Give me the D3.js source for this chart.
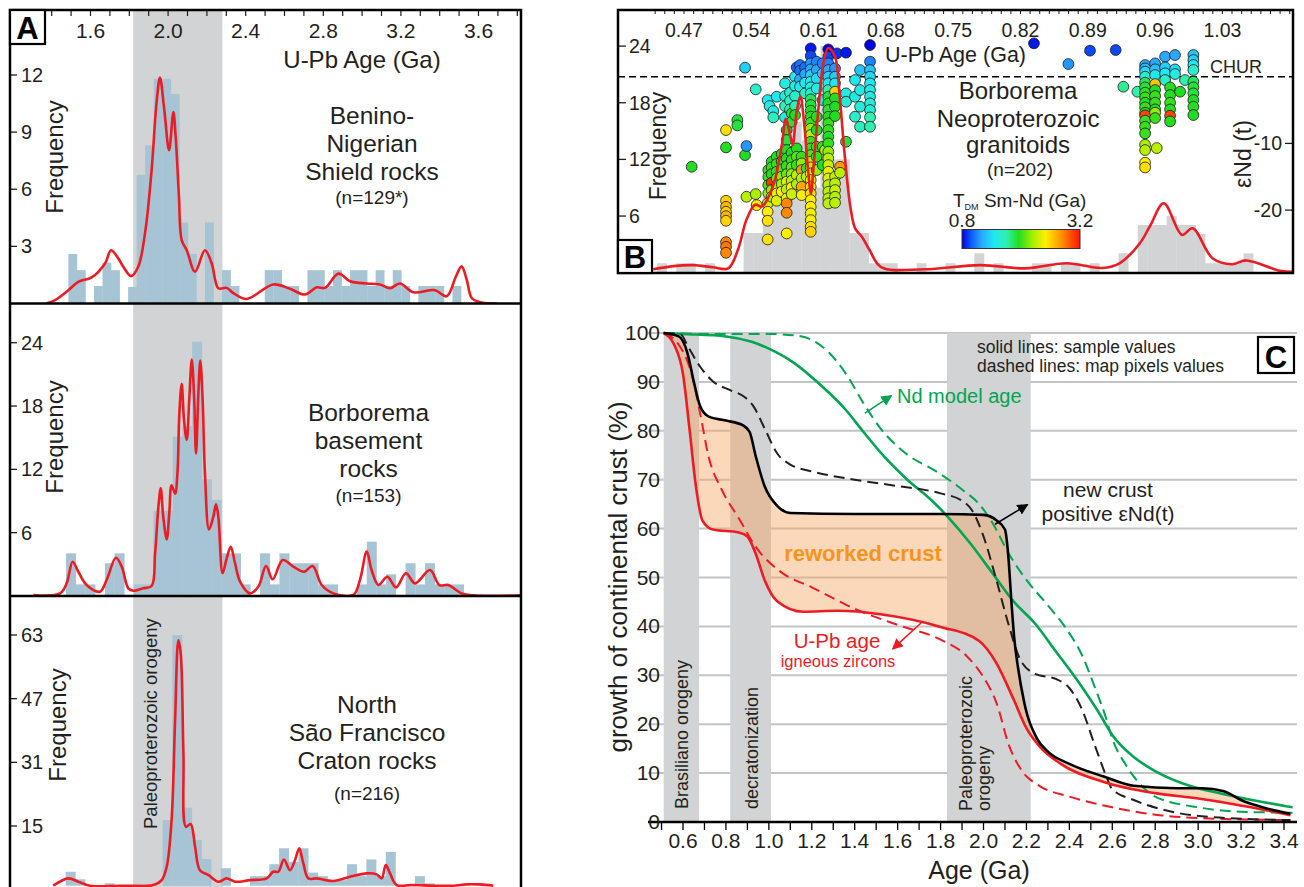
<!DOCTYPE html>
<html>
<head>
<meta charset="utf-8">
<script src="https://cdn.jsdelivr.net/npm/d3@7"></script>
<style>
  body { margin: 0; background: #fff; }
  svg { display: block; }
</style>
</head>
<body>
<svg id="fig" width="1304" height="887"></svg>
<script>
// ---------------- panel A : U-Pb zircon age spectra ----------------
const aAgeTicks = [1.6, 2.0, 2.4, 2.8, 3.2, 3.6];
const benTicks = [3, 6, 9, 12];
const basTicks = [6, 12, 18, 24];
const sfcTicks = [15, 31, 47, 63];
const paleoBandA = [1.82, 2.28];

const benBinStart = 1.486, benBinWidth = 0.044;
const benBins = [2.6, 1.75, 0, 0.92, 2.15, 1.75, 0, 0.87, 6.76, 8.3, 11.8, 11.8, 11.0, 4.26, 2.6, 0,
  4.26, 0, 1.75, 0.92, 0, 0, 0, 1.75, 1.75, 0.92, 0.92, 0, 1.75, 1.75, 0.92, 1.75, 0.92, 1.75, 1.75,
  0.92, 1.75, 0.92, 1.75, 0.92, 0, 0.92, 0.92, 0.92, 0, 0.92];
const basBinStart = 1.474, basBinWidth = 0.05;
const basBins = [4.04, 1.1, 1.1, 0, 3.1, 4.04, 0, 1.1, 1.1, 8.08, 8.08, 15.1, 16.1, 24.1, 11.06, 9.1,
  4.04, 4.04, 1.1, 0, 4.04, 1.1, 4.04, 3.1, 3.1, 3.1, 1.1, 1.1, 0, 0, 1.1, 5.15, 1.1, 2.05, 0, 3.1,
  1.1, 3.1, 1.1, 1.1, 1.1];
const sfcBinStart = 1.472, sfcBinWidth = 0.05;
const sfcBins = [3.5, 1.6, 0, 0, 0.6, 0, 0, 0.4, 0.4, 0, 16.5, 63, 19.6, 11.5, 6.7, 0, 4.4, 0, 0,
  2.4, 2.4, 5.4, 9.4, 6, 9.4, 3.3, 2.4, 1.4, 1.4, 5.4, 2.4, 6.6, 2.4, 8.5, 0, 0, 2.4, 0.6, 0, 0, 0, 0, 0.4];

const benKde = [[1.37,0],[1.417,0.18],[1.486,0.7],[1.537,1.14],[1.606,1.37],[1.675,2.1],[1.706,2.8],
  [1.743,2.37],[1.769,1.93],[1.809,1.44],[1.846,1.93],[1.881,3.68],[1.915,7.0],[1.94,10.5],[1.958,11.86],
  [1.98,10.2],[2.005,8.05],[2.027,10.06],[2.039,8.75],[2.056,5.6],[2.07,3.33],[2.096,2.8],[2.139,1.67],
  [2.19,2.8],[2.225,2.1],[2.259,0.8],[2.302,0.82],[2.336,0.55],[2.405,0.24],[2.542,1.0],[2.628,0.77],
  [2.705,0.47],[2.766,0.85],[2.809,0.82],[2.878,1.57],[2.938,1.17],[3.024,1.05],[3.092,1.0],[3.144,0.8],
  [3.195,1.05],[3.264,0.59],[3.376,0.7],[3.436,0.38],[3.484,1.43],[3.513,1.95],[3.539,1.26],[3.565,0.29],
  [3.608,0.07],[3.694,0]];
const basKde = [[1.305,0.1],[1.443,0.25],[1.477,1.2],[1.508,3.25],[1.537,2.3],[1.58,1.04],[1.649,0.41],
  [1.683,1.52],[1.731,3.63],[1.761,2.78],[1.795,0.73],[1.821,0.5],[1.872,0.73],[1.915,0.95],[1.933,4.04],
  [1.95,8.46],[1.962,10.2],[1.975,7.5],[1.993,5.37],[2.006,7.83],[2.018,10.5],[2.036,9.7],[2.048,11.6],
  [2.058,17.3],[2.07,20.1],[2.082,16.7],[2.096,14.8],[2.109,18.6],[2.122,22.4],[2.134,18.9],[2.144,13.5],
  [2.156,19.2],[2.166,22.3],[2.178,18.6],[2.19,11.6],[2.211,6.3],[2.233,7.5],[2.247,8.7],[2.259,7.5],
  [2.281,2.15],[2.302,3.57],[2.323,4.67],[2.345,3.1],[2.371,1.36],[2.422,0.25],[2.465,0.88],[2.505,2.84],
  [2.539,1.58],[2.591,3.41],[2.646,2.78],[2.701,2.3],[2.745,2.84],[2.792,1.04],[2.852,0.25],[2.955,0.1],
  [2.989,1.52],[3.024,4.2],[3.049,2.46],[3.084,1.04],[3.13,1.83],[3.175,0.82],[3.226,2.15],[3.273,1.2],
  [3.35,2.46],[3.398,1.04],[3.444,1.04],[3.513,0.25],[3.573,0.06],[3.814,0.06]];
const sfcKde = [[1.408,0],[1.486,1.84],[1.537,1.0],[1.597,0],[1.75,0],[1.924,0.17],[1.967,1.4],
  [1.993,4.8],[2.018,16.5],[2.036,41.6],[2.053,61.7],[2.065,58.4],[2.079,33.2],[2.092,14.8],[2.116,15.5],
  [2.139,9.8],[2.164,3.9],[2.207,2.7],[2.259,1.0],[2.302,1.84],[2.345,1.0],[2.422,1.4],[2.508,1.84],
  [2.542,3.5],[2.568,3.5],[2.597,6.6],[2.628,3.9],[2.654,6.4],[2.676,9.4],[2.697,5.6],[2.723,1.84],
  [2.766,1.84],[2.852,1.17],[2.938,2.26],[3.024,3.1],[3.075,2.85],[3.101,1.84],[3.122,5.2],[3.144,3.1],
  [3.178,0.17],[3.255,0.17],[3.384,0],[3.47,0],[3.539,0.34],[3.608,0.34],[3.676,0]];

const benTitle = ["Benino-", "Nigerian", "Shield rocks"];
const basTitle = ["Borborema", "basement", "rocks"];
const sfcTitle = ["North", "São Francisco", "Craton rocks"];

// ---------------- panel B : Neoproterozoic granitoids ----------------
const bAgeTicks = [0.47, 0.54, 0.61, 0.68, 0.75, 0.82, 0.89, 0.96, 1.03];
const bFreqTicks = [6, 12, 18, 24];
const bEndTicks = [-10, -20];
const graBinStart = 0.442, graBinWidth = 0.01;
const graBins = [1, 0, 1, 1, 0, 1, 0, 0, 0, 4.2, 4.2, 8, 8, 12, 16, 14, 9, 24, 12, 12, 4.2, 4.2, 1, 1, 1,
  0, 0, 1, 0, 0, 1, 0, 0, 2.05, 0, 1, 0, 0, 0, 1, 1, 0, 1, 1, 0, 1, 0, 0, 2.05, 0, 5.05, 5.05, 5.05, 6,
  5.05, 5.05, 4.1, 1, 1, 1, 1, 2.05];
const graKde = [[0.438,0.36],[0.459,0.7],[0.48,0.8],[0.5,0.57],[0.516,0.46],[0.526,2.4],[0.535,5.6],
  [0.544,7.2],[0.551,7.0],[0.558,8.05],[0.565,10.0],[0.572,13.7],[0.576,16.3],[0.58,14.8],[0.583,13.5],
  [0.587,16.9],[0.591,18.7],[0.595,15.8],[0.599,10.9],[0.602,8.4],[0.605,11.6],[0.61,17.6],[0.615,22.2],
  [0.62,23.8],[0.627,22.9],[0.632,18.6],[0.637,12.6],[0.643,7.0],[0.648,4.7],[0.655,3.8],[0.663,2.4],
  [0.675,0.6],[0.72,0.36],[0.778,0.8],[0.825,0.46],[0.868,1.0],[0.905,0.5],[0.923,1.0],[0.944,3.1],
  [0.955,5.0],[0.969,7.35],[0.988,4.0],[0.999,4.7],[1.02,1.5],[1.04,0.9],[1.055,1.3],[1.09,0.2],[1.104,0.1]];
// columns of samples: [U-Pb age, [[eNd(t), T_DM], ...]]
const graColumns = [
  [0.478, [[-13.5,1.95]]],
  [0.5137, [[-8.0,2.55],[-10.6,1.95],[-18.6,2.6],[-19.5,2.7],[-20.25,2.6],[-20.9,2.7],[-21.6,2.6],[-24.8,2.85],[-25.5,2.9],[-26.4,2.85]]],
  [0.5255, [[-6.5,1.9],[-7.3,1.9]]],
  [0.5335, [[1.35,1.35],[-11.75,1.95]]],
  [0.535, [[-10.4,1.15],[-18.0,2.3]]],
  [0.5446, [[-1.9,1.6],[-17.6,2.25]]],
  [0.5456, [[-19.25,2.5]]],
  [0.557, [[-3.5,1.45],[-19.0,2.35],[-20.25,2.5],[-21.6,2.55],[-24.4,2.55]]],
  [0.5577, [[-14,2.0],[-15,2.0],[-16.25,2.05],[-17.5,2.2]]],
  [0.559, [[-4.4,1.5]]],
  [0.5612, [[-12.75,1.95],[-13.6,2.0],[-14.6,1.95],[-15.9,3.1],[-17,2.2],[-18,2.3]]],
  [0.5629, [[-5.15,1.5],[-6.1,1.65]]],
  [0.5664, [[-3.0,1.45],[-12,1.95],[-13.1,2.0],[-14.25,2.0],[-15.25,2.1],[-16.4,2.3],[-17.5,2.45],[-18.6,2.4]]],
  [0.5716, [[-11.6,1.95],[-12.75,2.0],[-13.9,2.05],[-15,2.2],[-16.1,2.25],[-17.25,2.5]]],
  [0.5751, [[-1.0,1.5],[-2.9,1.55],[-4.4,1.65],[-6.1,1.5]]],
  [0.5768, [[-8.0,1.95],[-9.5,1.9],[-11,1.95],[-12.25,1.95],[-13.4,2.0],[-14.6,2.1],[-15.75,2.4],[-16.9,2.3],[-18.25,2.45],[-19,2.85],[-20.4,2.85],[-23.5,2.5]]],
  [0.5803, [[-2.4,1.55],[-3.6,1.6],[-4.9,1.7]]],
  [0.582, [[-5.5,1.95],[-6.75,1.9],[-11.4,1.95],[-12.5,2.0],[-13.6,2.1],[-14.6,2.2],[-15.6,2.3],[-16.6,2.5],[-17.6,2.35]]],
  [0.5855, [[0,1.45],[-1.4,1.5],[-2.9,1.6],[-4.4,1.7],[-5.75,1.95]]],
  [0.5872, [[1.4,1.0],[-10.75,1.95],[-12,2.05],[-13.25,2.0],[-14.75,2.3],[-16.1,2.25]]],
  [0.5907, [[1.75,1.05],[0.9,1.05],[-0.4,1.2],[-1.5,1.45]]],
  [0.5924, [[-12,2.0],[-13,2.2],[-14,2.8],[-15.25,2.3],[-16.5,2.75],[-17.75,2.5]]],
  [0.5959, [[1.4,1.05],[0.4,1.2],[-0.9,1.45],[-2.5,1.6]]],
  [0.5976, [[-13.75,2.0],[-15,2.3]]],
  [0.6018, [[4.25,0.85],[3.1,0.95],[2.0,1.15],[1.1,1.2],[0.25,1.35],[-0.75,1.45],[-1.6,1.5],[-2.5,1.55],[-3.4,1.85],[-4.25,1.9],[-5.1,1.95],[-6.0,1.95],[-6.9,2.0],[-7.8,2.2],[-8.75,2.3],[-9.75,2.0],[-10.75,2.0],[-11.75,2.05],[-12.75,2.3],[-13.6,2.35],[-14.5,2.45],[-15.5,2.5],[-16.5,2.5],[-17.5,2.55],[-18.5,2.5],[-19.5,2.5],[-20.5,2.45],[-21.5,2.5],[-22.5,2.55],[-23.25,2.6]]],
  [0.608, [[2.25,1.1],[1.0,1.2],[-0.25,1.4],[-1.75,1.5],[-6.0,1.95],[-8.0,1.95],[-10.5,2.0],[-12,2.0],[-14,2.2]]],
  [0.6142, [[2.0,1.1],[0.5,1.3],[-3.5,1.5],[-10.5,2.0],[-13.25,1.95]]],
  [0.6167, [[-11,2.25]]],
  [0.6201, [[4.1,0.8],[3.0,0.95],[2.0,1.1],[1.0,1.2],[0,1.35],[-1,1.45],[-2,1.7],[-3,1.9],[-4,1.95],[-5,1.9],[-6,1.95],[-7,2.0],[-8,2.0],[-9,1.95],[-10,2.0],[-11.25,2.2],[-12.25,2.3],[-13.25,2.35],[-14.25,2.45],[-15.25,2.4],[-16.25,2.3],[-17.25,2.3],[-18.25,2.3],[-19,2.3]]],
  [0.6271, [[1.25,1.15],[0,1.35],[-1,1.45],[-2.25,2.6],[-3.25,1.95],[-4.5,1.95],[-5.9,1.95],[-15,2.3],[-16,2.3],[-17,2.35],[-18,2.3],[-18.9,2.3]]],
  [0.629, [[3.5,0.9]]],
  [0.6323, [[-13.5,2.8],[-14.4,2.3]]],
  [0.6385, [[3.6,0.85],[-2.5,1.5],[-3.75,1.55],[-9.75,1.9]]],
  [0.6479, [[-0.5,1.45],[-3.0,1.5],[-6,1.6]]],
  [0.6531, [[1.0,1.3],[-2.0,1.5],[-4.5,1.55],[-7.5,1.65]]],
  [0.6635, [[4.75,0.8],[2.25,1.1],[1.0,1.3],[0,1.4],[-1,1.45],[-2,1.5],[-3,1.5],[-4,1.55],[-5,1.55],[-6.1,1.7],[-7.5,1.7]]],
  [0.834, [[5.0,0.85]]],
  [0.8698, [[1.9,1.15]]],
  [0.8923, [[3.9,0.95]]],
  [0.919, [[4.0,0.95]]],
  [0.927, [[-1.5,1.75]]],
  [0.9416, [[-2.25,1.7]]],
  [0.9496, [[1.75,1.2],[1.25,1.25],[0.75,1.4],[0,1.55],[-0.9,1.85],[-1.6,1.9],[-2.4,2.0],[-3.1,2.0],[-3.9,1.95],[-4.6,2.0],[-5.4,1.95],[-5.8,3.05],[-6.6,2.0],[-7.5,2.0],[-8.5,2.0],[-10.2,2.25],[-11,2.3],[-12.9,2.5],[-13.6,2.55]]],
  [0.96, [[2.0,1.2],[1.1,1.3],[0.25,1.45],[-1.1,2.65],[-2.0,1.95],[-2.9,2.0],[-3.9,2.0],[-4.9,1.95],[-5.4,2.2],[-6.2,2.0]]],
  [0.9617, [[-10.7,2.3]]],
  [0.9704, [[3.0,1.2],[1.4,1.35],[0.5,1.45],[-0.5,1.6]]],
  [0.9756, [[-1.6,1.95],[-2.75,1.95],[-3.9,2.0],[-4.9,1.95],[-5.85,3.05],[-6.7,1.95]]],
  [0.9807, [[3.25,1.2],[1.1,1.4],[0.4,1.5]]],
  [0.986, [[-2.25,1.95]]],
  [0.9911, [[-0.5,1.7]]],
  [0.9998, [[3.25,1.3],[2.5,1.35],[1.75,1.45],[1.0,1.6],[-0.75,1.85],[-1.6,1.9],[-2.5,1.9],[-3.5,1.95],[-4.5,1.95],[-5.75,1.95]]]
];
const tdmDomain = [0.8, 1.0, 1.2, 1.45, 1.7, 1.95, 2.25, 2.5, 2.8, 3.1, 3.2];
const tdmColors = ["#0000e0", "#1060ff", "#2aa8ff", "#20e8f0", "#30f0b0", "#22dd22", "#a8f000",
  "#ffee00", "#ff9900", "#ff3300", "#ff1a00"];

// ---------------- panel C : crustal growth curves ----------------
const cAgeLabels = [0.6, 0.8, 1.0, 1.2, 1.4, 1.6, 1.8, 2.0, 2.2, 2.4, 2.6, 2.8, 3.0, 3.2, 3.4];
const cPctTicks = [0, 10, 20, 30, 40, 50, 60, 70, 80, 90, 100];
const cBands = [[0.51, 0.675], [0.82, 1.01], [1.83, 2.22]];
const newCrustSample = [[0.51,100],[0.58,99.3],[0.62,96],[0.65,90.1],[0.68,85],[0.72,82.9],[0.8,82.1],
  [0.88,81.1],[0.91,79.8],[0.94,74.6],[0.98,68.7],[1.04,64.6],[1.1,63.2],[1.4,63.0],[1.8,63.0],[2.0,62.8],
  [2.06,61.7],[2.1,59.8],[2.115,54.7],[2.13,45.1],[2.143,37.7],[2.16,31.8],[2.19,24.4],[2.25,17.0],
  [2.3,14.4],[2.4,11.9],[2.56,9.3],[2.7,7.4],[2.9,6.9],[3.02,6.9],[3.12,6.3],[3.2,4.5],[3.3,3.0],[3.43,1.7]];
const upbSample = [[0.51,100],[0.56,97.5],[0.6,91.6],[0.63,80.5],[0.66,68.7],[0.69,61.7],[0.74,59.8],
  [0.86,59.2],[0.9,58.4],[0.94,54.7],[0.98,49.5],[1.04,45.1],[1.16,43.0],[1.32,43.2],[1.52,42.5],
  [1.8,39.9],[1.98,37.0],[2.06,32.5],[2.14,25.1],[2.2,19.2],[2.26,15.5],[2.36,11.9],[2.56,8.2],[2.8,5.9],
  [3.0,4.8],[3.16,3.7],[3.43,1.4]];
const newCrustMap = [[0.51,100],[0.59,99.7],[0.62,97.5],[0.68,93.1],[0.74,90.1],[0.82,88.3],[0.89,86.8],
  [0.93,84.9],[0.98,80.5],[1.04,75.3],[1.1,73.1],[1.2,71.7],[1.4,70.0],[1.6,68.7],[1.8,67.2],[1.9,65.7],
  [1.95,63.5],[2.0,58.4],[2.06,49.5],[2.12,39.9],[2.17,33.3],[2.24,30.3],[2.34,29.2],[2.4,27.4],
  [2.46,22.9],[2.52,15.5],[2.57,9.6],[2.6,6.7],[2.7,4.5],[2.9,1.9],[3.1,0.9],[3.43,0.4]];
const upbMap = [[0.51,100],[0.57,98.2],[0.64,91.6],[0.68,83.5],[0.72,74.6],[0.78,68],[0.86,62.1],
  [0.94,56.2],[1.06,51.0],[1.2,48.0],[1.4,43.6],[1.6,40.3],[1.8,37.3],[1.92,34.0],[2.0,29.6],[2.06,24.4],
  [2.12,15.5],[2.18,10.4],[2.26,7.4],[2.4,5.2],[2.6,3.0],[2.8,1.5],[3.0,0.8],[3.43,0.4]];
const ndSample = [[0.51,100],[0.6,99.8],[0.8,99.3],[0.92,98.2],[1.0,96.8],[1.12,93.8],[1.24,89.4],
  [1.36,84.2],[1.44,79.8],[1.54,74.6],[1.64,70.2],[1.76,65.7],[1.84,62.1],[1.94,56.9],[2.04,51.0],
  [2.14,45.1],[2.24,40.6],[2.34,34.7],[2.44,28.8],[2.54,22.2],[2.6,17.8],[2.7,13.3],[2.8,10.4],
  [2.96,7.4],[3.1,5.9],[3.3,4.1],[3.44,3.0]];
const ndMap = [[0.51,100],[0.7,99.8],[1.0,99.8],[1.12,99.5],[1.2,98.6],[1.28,96],[1.36,91.6],
  [1.44,85.7],[1.52,80.5],[1.64,75.3],[1.78,71.7],[1.9,68],[1.98,65],[2.04,61.3],[2.12,54.7],[2.2,49.5],
  [2.3,44.3],[2.38,39.9],[2.46,34.0],[2.52,27.4],[2.57,21.4],[2.6,17.0],[2.66,11.9],[2.72,8.2],[2.8,5.2],
  [3.0,3.0],[3.2,2.1],[3.44,1.9]];

// ---------------- drawing ----------------
const RED = "#ed1c24", BAR = "#a7c4d4", BAND = "#d1d3d4", GREEN = "#00a651", ORANGE = "#f7941d";
const SANS = "'Liberation Sans', Arial, Helvetica, sans-serif";
const NARROW = "'Liberation Sans Narrow', 'Arial Narrow', 'Liberation Sans', sans-serif";

const svg = d3.select("#fig").style("font-family", SANS);
const defs = svg.append("defs");
function clip(id, x, y, w, h) {
  defs.append("clipPath").attr("id", id)
    .append("rect").attr("x", x).attr("y", y).attr("width", w).attr("height", h);
  return `url(#${id})`;
}
function label(g, x, y, txt, size, opts = {}) {
  const t = g.append("text").attr("x", x).attr("y", y).text(txt)
    .attr("font-size", size).attr("fill", opts.fill || "#231f20")
    .attr("text-anchor", opts.anchor || "start");
  if (opts.font) t.attr("font-family", opts.font);
  if (opts.weight) t.attr("font-weight", opts.weight);
  if (opts.rotate) t.attr("transform", `rotate(${opts.rotate},${x},${y})`);
  return t;
}
function letterBox(g, x, y, w, h, txt) {
  g.append("rect").attr("x", x).attr("y", y).attr("width", w).attr("height", h)
    .attr("fill", "#fff").attr("stroke", "#000").attr("stroke-width", 2.2);
  label(g, x + w / 2, y + h - 5, txt, 31, { anchor: "middle", weight: "bold", fill: "#000" });
}

// ===== Panel A =====
const aLeft = 10, aRight = 521;
const ax = d3.scaleLinear().domain([1.6, 3.6]).range([90.5, 478.5]);
const aPanels = [
  { top: 10, bottom: 303.5, y: d3.scaleLinear().domain([0, 12]).range([303.5, 75]),
    ticks: benTicks, bins: benBins, start: benBinStart, width: benBinWidth, kde: benKde,
    title: benTitle, titleX: 372, titleY: [124, 152, 180], note: "(n=129*)", noteY: 204, freqX: 63, freqY: 157 },
  { top: 303.5, bottom: 596, y: d3.scaleLinear().domain([0, 24]).range([596, 342.7]),
    ticks: basTicks, bins: basBins, start: basBinStart, width: basBinWidth, kde: basKde,
    title: basTitle, titleX: 368.5, titleY: [421, 449, 477], note: "(n=153)", noteY: 502, freqX: 63, freqY: 437 },
  { top: 596, bottom: 900, y: d3.scaleLinear().domain([0, 63]).range([885.7, 635]),
    ticks: sfcTicks, bins: sfcBins, start: sfcBinStart, width: sfcBinWidth, kde: sfcKde,
    title: sfcTitle, titleX: 367, titleY: [713, 741, 769], note: "(n=216)", noteY: 800, freqX: 66, freqY: 725 }
];

const gA = svg.append("g");
gA.append("rect")
  .attr("x", ax(paleoBandA[0])).attr("width", ax(paleoBandA[1]) - ax(paleoBandA[0]))
  .attr("y", 10).attr("height", 890).attr("fill", BAND);

aPanels.forEach((p, i) => {
  const g = gA.append("g").attr("clip-path", clip("clipA" + i, aLeft, p.top, aRight - aLeft, p.bottom - p.top));
  const bars = p.bins.map((h, k) => ({ a0: p.start + k * p.width, a1: p.start + (k + 1) * p.width, h }))
    .filter(d => d.h > 0);
  g.selectAll("rect.bar").data(bars).join("rect").attr("class", "bar")
    .attr("x", d => ax(d.a0)).attr("width", d => ax(d.a1) - ax(d.a0) + 0.3)
    .attr("y", d => p.y(d.h)).attr("height", d => p.y(0) - p.y(d.h))
    .attr("fill", BAR);
  const line = d3.line().x(d => ax(d[0])).y(d => p.y(d[1])).curve(d3.curveCatmullRom.alpha(0.5));
  g.append("path").attr("d", line(p.kde)).attr("fill", "none")
    .attr("stroke", RED).attr("stroke-width", 2.6);

  // left ticks
  p.ticks.forEach(t => {
    gA.append("line").attr("x1", aLeft).attr("x2", aLeft + 7)
      .attr("y1", p.y(t)).attr("y2", p.y(t)).attr("stroke", "#231f20").attr("stroke-width", 1.3);
    label(gA, aLeft + 11, p.y(t) + 7, t, 20, { font: NARROW });
  });
  label(gA, p.freqX, p.freqY, "Frequency", 24, { anchor: "middle", rotate: -90 });
  p.title.forEach((s, k) => label(gA, p.titleX, p.titleY[k], s, 24.5, { anchor: "middle" }));
  label(gA, p.titleX, p.noteY, p.note, 19, { anchor: "middle" });
});

label(gA, 157, 829, "Paleoproterozoic orogeny", 18.5, { rotate: -90 });

// top axis
d3.range(13, 39).map(i => i / 10).forEach(a => {
  gA.append("line").attr("x1", ax(a)).attr("x2", ax(a)).attr("y1", 10).attr("y2", 16)
    .attr("stroke", "#231f20").attr("stroke-width", 1.2);
});
aAgeTicks.forEach(a => label(gA, ax(a), 38, a.toFixed(1), 21, { anchor: "middle", font: NARROW }));
label(gA, 362, 68, "U-Pb Age (Ga)", 24, { anchor: "middle" });

gA.append("rect").attr("x", aLeft).attr("y", 10).attr("width", aRight - aLeft).attr("height", 900)
  .attr("fill", "none").attr("stroke", "#000").attr("stroke-width", 2.5);
[303.5, 596].forEach(yy => gA.append("line").attr("x1", aLeft).attr("x2", aRight)
  .attr("y1", yy).attr("y2", yy).attr("stroke", "#000").attr("stroke-width", 2.5));
letterBox(gA, aLeft, 10, 35, 34, "A");

// ===== Panel B =====
const bL = 618, bR = 1293, bT = 10, bB = 273;
const bx = d3.scaleLinear().domain([0.47, 1.03]).range([684, 1222.4]);
const by = d3.scaleLinear().domain([0, 24]).range([272.7, 46.1]);
const be = d3.scaleLinear().domain([0, -20]).range([76.7, 210.1]);
const tdmColor = d3.scaleLinear().domain(tdmDomain).range(tdmColors).clamp(true);

const gB = svg.append("g");
const gBc = gB.append("g").attr("clip-path", clip("clipB", bL, bT, bR - bL, bB - bT));
const gBars = graBins.map((h, k) => ({ a0: graBinStart + k * graBinWidth, a1: graBinStart + (k + 1) * graBinWidth, h }))
  .filter(d => d.h > 0);
gBc.selectAll("rect.bar").data(gBars).join("rect").attr("class", "bar")
  .attr("x", d => bx(d.a0)).attr("width", d => bx(d.a1) - bx(d.a0) + 0.3)
  .attr("y", d => by(d.h)).attr("height", d => by(0) - by(d.h)).attr("fill", BAND);

gBc.append("line").attr("x1", bL).attr("x2", bR).attr("y1", be(0)).attr("y2", be(0))
  .attr("stroke", "#000").attr("stroke-width", 1.6).attr("stroke-dasharray", "7,4");

label(gB, 885, 62, "U-Pb Age (Ga)", 21.5);
label(gB, 1210, 73, "CHUR", 18);
["Borborema", "Neoproterozoic", "granitoids"].forEach((s, k) =>
  label(gB, 1018, [99, 127, 153][k], s, 24, { anchor: "middle" }));
label(gB, 1020, 176, "(n=202)", 19, { anchor: "middle" });

// colour bar
const grad = defs.append("linearGradient").attr("id", "tdmGrad");
tdmDomain.forEach((v, k) => grad.append("stop")
  .attr("offset", ((v - 0.8) / 2.4 * 100) + "%").attr("stop-color", tdmColors[k]));
const cbX0 = 962, cbX1 = 1080;
gB.append("rect").attr("x", cbX0).attr("y", 229.5).attr("width", cbX1 - cbX0).attr("height", 19)
  .attr("fill", "url(#tdmGrad)").attr("stroke", "#333").attr("stroke-width", 1);
const tdmLab = label(gB, 953, 207, "T", 19);
tdmLab.append("tspan").attr("font-size", 9).attr("dy", 3).text("DM");
tdmLab.append("tspan").attr("dy", -3).text(" Sm-Nd (Ga)");
label(gB, cbX0, 227, "0.8", 19, { anchor: "middle" });
label(gB, cbX1, 227, "3.2", 19, { anchor: "middle" });

const samples = graColumns.flatMap(([age, pts]) => pts.map(([e, t]) => ({ age, e, t })));
gBc.selectAll("circle.s").data(samples).join("circle").attr("class", "s")
  .attr("cx", d => bx(d.age)).attr("cy", d => be(d.e)).attr("r", 5.4)
  .attr("fill", d => tdmColor(d.t)).attr("stroke", "#1a1a1a").attr("stroke-width", 0.8);

const bLine = d3.line().x(d => bx(d[0])).y(d => by(d[1])).curve(d3.curveCatmullRom.alpha(0.5));
gBc.append("path").attr("d", bLine(graKde)).attr("fill", "none").attr("stroke", RED).attr("stroke-width", 2.6);

// axes of B
d3.range(44, 111).map(i => i / 100).forEach(a => {
  gB.append("line").attr("x1", bx(a)).attr("x2", bx(a)).attr("y1", bT).attr("y2", bT + 4)
    .attr("stroke", "#231f20").attr("stroke-width", 1);
});
bAgeTicks.forEach(a => label(gB, bx(a), 37, a.toFixed(2), 19.5, { anchor: "middle", font: NARROW }));
bFreqTicks.forEach(t => {
  gB.append("line").attr("x1", bL).attr("x2", bL + 8).attr("y1", by(t)).attr("y2", by(t))
    .attr("stroke", "#231f20").attr("stroke-width", 1.3);
  label(gB, bL + 11, by(t) + 7, t, 19.5, { font: NARROW });
});
bEndTicks.forEach(t => {
  gB.append("line").attr("x1", bR - 8).attr("x2", bR).attr("y1", be(t)).attr("y2", be(t))
    .attr("stroke", "#231f20").attr("stroke-width", 1.3);
  label(gB, bR - 11, be(t) + 7, t, 19.5, { anchor: "end", font: NARROW });
});
label(gB, 666, 146, "Frequency", 23, { anchor: "middle", rotate: -90 });
label(gB, 1251, 154, "εNd (t)", 23, { anchor: "middle", rotate: -90 });
gB.append("rect").attr("x", bL).attr("y", bT).attr("width", bR - bL).attr("height", bB - bT)
  .attr("fill", "none").attr("stroke", "#000").attr("stroke-width", 2.5);
letterBox(gB, bL, bB - 33, 34, 33, "B");

// ===== Panel C =====
const cx = d3.scaleLinear().domain([0.6, 3.4]).range([683, 1284]);
const cy = d3.scaleLinear().domain([0, 100]).range([822, 333]);
const cL = 648, cR = 1297;
const gC = svg.append("g");

cPctTicks.filter(v => v > 0).forEach(v => gC.append("line")
  .attr("x1", cL).attr("x2", cR).attr("y1", cy(v)).attr("y2", cy(v))
  .attr("stroke", "#c2c4c6").attr("stroke-width", 2));
gC.selectAll("rect.band").data(cBands).join("rect").attr("class", "band")
  .attr("x", d => cx(d[0])).attr("width", d => cx(d[1]) - cx(d[0]))
  .attr("y", cy(100)).attr("height", cy(0) - cy(100)).attr("fill", BAND);

const cLine = d3.line().x(d => cx(d[0])).y(d => cy(d[1])).curve(d3.curveMonotoneX);
const upper = cLine(newCrustSample);
const lower = cLine(upbSample.slice().reverse());
gC.append("path").attr("d", upper + "L" + lower.slice(1) + "Z")
  .attr("fill", "#f7a35c").attr("fill-opacity", 0.42);

// band labels
label(gC, 688, 809, "Brasiliano orogeny", 18, { rotate: -90 });
label(gC, 758, 809, "decratonization", 18, { rotate: -90 });
label(gC, 972, 811, "Paleoproterozoic", 18, { rotate: -90 });
label(gC, 990, 811, "orogeny", 18, { rotate: -90 });

const curves = [
  { d: ndMap, c: GREEN, dash: true }, { d: ndSample, c: GREEN },
  { d: upbMap, c: RED, dash: true }, { d: newCrustMap, c: "#231f20", dash: true },
  { d: upbSample, c: RED }, { d: newCrustSample, c: "#000" }
];
curves.forEach(k => {
  const p = gC.append("path").attr("d", cLine(k.d)).attr("fill", "none")
    .attr("stroke", k.c).attr("stroke-width", k.dash ? 2 : 2.6);
  if (k.dash) p.attr("stroke-dasharray", "11,6");
});

// axis
gC.append("line").attr("x1", cL).attr("x2", cR).attr("y1", cy(0)).attr("y2", cy(0))
  .attr("stroke", "#000").attr("stroke-width", 2.6);
d3.range(5, 35).map(i => i / 10).forEach(a => gC.append("line")
  .attr("x1", cx(a)).attr("x2", cx(a)).attr("y1", cy(0)).attr("y2", cy(0) + 8)
  .attr("stroke", "#000").attr("stroke-width", 1.3));
cAgeLabels.forEach(a => label(gC, cx(a), 848, a.toFixed(1), 21, { anchor: "middle", font: NARROW }));
cPctTicks.forEach(v => label(gC, 660, cy(v) + 7, v, 21, { anchor: "end", font: NARROW }));
label(gC, 979, 879, "Age (Ga)", 25, { anchor: "middle" });
label(gC, 627, 577, "growth of continental crust (%)", 26, { anchor: "middle", rotate: -90 });

// annotations
function arrow(id, color) {
  defs.append("marker").attr("id", id).attr("viewBox", "0 0 10 10").attr("refX", 9).attr("refY", 5)
    .attr("markerWidth", 11).attr("markerHeight", 11).attr("markerUnits", "userSpaceOnUse")
    .attr("orient", "auto").append("path").attr("d", "M0,0L10,5L0,10z").attr("fill", color);
  return `url(#${id})`;
}
function pointer(from, to, color, id) {
  gC.append("line").attr("x1", cx(from[0])).attr("y1", cy(from[1]))
    .attr("x2", cx(to[0])).attr("y2", cy(to[1])).attr("stroke", color).attr("stroke-width", 1.6)
    .attr("marker-end", arrow(id, color));
}
pointer([1.448, 83.6], [1.571, 87.2], GREEN, "arG");
pointer([2.054, 60.9], [2.205, 64.9], "#000", "arK");
pointer([1.709, 40.7], [1.577, 35.4], RED, "arR");

label(gC, 977, 353, "solid lines: sample values", 17.5);
label(gC, 977, 372, "dashed lines: map pixels values", 17.5);
label(gC, 897, 403, "Nd model age", 20, { fill: GREEN });
label(gC, 1108, 497, "new crust", 21, { anchor: "middle" });
label(gC, 1108, 521, "positive εNd(t)", 21, { anchor: "middle" });
label(gC, 863, 561, "reworked crust", 22, { anchor: "middle", weight: "bold", fill: ORANGE });
label(gC, 837, 648, "U-Pb age", 20.5, { anchor: "middle", fill: RED });
label(gC, 838, 667, "igneous zircons", 16.5, { anchor: "middle", fill: RED });
letterBox(gC, 1258, 337, 36, 36, "C");
</script>
</body>
</html>
